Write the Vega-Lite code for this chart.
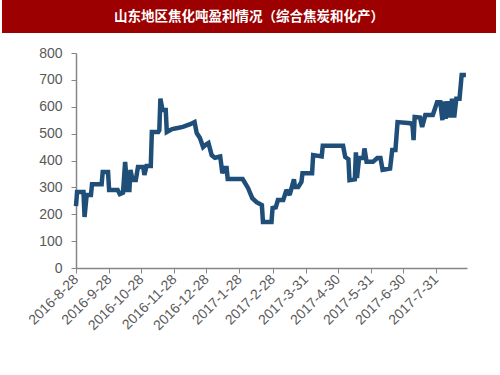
{
  "$schema": "https://vega.github.io/schema/vega-lite/v6.json",
  "background": "white",
  "padding": {"left": 2, "top": 0, "right": 0, "bottom": 0},
  "spacing": 13,
  "config": {"view": {"stroke": null}, "font": "Liberation Sans"},
  "vconcat": [
    {
      "width": 494,
      "height": 33,
      "view": {"fill": "#9C0000", "stroke": null},
      "data": {"values": [{"t": "山东地区焦化吨盈利情况（综合焦炭和化产）"}]},
      "mark": {"type": "text", "color": "white", "fontWeight": "bold", "fontSize": 13.5, "font": "Noto Sans CJK SC", "baseline": "middle", "align": "center"},
      "encoding": {"text": {"field": "t"}}
    },
    {
      "spacing": 0,
      "hconcat": [
        {
          "width": 23,
          "height": 215,
          "data": {"values": []},
          "mark": "point"
        },
        {
          "width": 391,
          "height": 215,
          "data": {"values": [
            {"date": "2016-08-28", "v": 230},
            {"date": "2016-08-29", "v": 283},
            {"date": "2016-09-04", "v": 283},
            {"date": "2016-09-05", "v": 190},
            {"date": "2016-09-07", "v": 272},
            {"date": "2016-09-11", "v": 272},
            {"date": "2016-09-12", "v": 312},
            {"date": "2016-09-21", "v": 312},
            {"date": "2016-09-22", "v": 357},
            {"date": "2016-09-27", "v": 357},
            {"date": "2016-09-28", "v": 290},
            {"date": "2016-10-06", "v": 290},
            {"date": "2016-10-08", "v": 275},
            {"date": "2016-10-11", "v": 280},
            {"date": "2016-10-13", "v": 395},
            {"date": "2016-10-15", "v": 290},
            {"date": "2016-10-17", "v": 290},
            {"date": "2016-10-18", "v": 365},
            {"date": "2016-10-20", "v": 327},
            {"date": "2016-10-23", "v": 327},
            {"date": "2016-10-25", "v": 376},
            {"date": "2016-10-30", "v": 376},
            {"date": "2016-10-31", "v": 346},
            {"date": "2016-11-02", "v": 380},
            {"date": "2016-11-06", "v": 380},
            {"date": "2016-11-07", "v": 506},
            {"date": "2016-11-13", "v": 506},
            {"date": "2016-11-14", "v": 513},
            {"date": "2016-11-15", "v": 630},
            {"date": "2016-11-17", "v": 588},
            {"date": "2016-11-20", "v": 588},
            {"date": "2016-11-21", "v": 506},
            {"date": "2016-11-26", "v": 517},
            {"date": "2016-11-30", "v": 520},
            {"date": "2016-12-06", "v": 525},
            {"date": "2016-12-13", "v": 535},
            {"date": "2016-12-17", "v": 543},
            {"date": "2016-12-19", "v": 502},
            {"date": "2016-12-22", "v": 484},
            {"date": "2016-12-25", "v": 450},
            {"date": "2016-12-28", "v": 460},
            {"date": "2016-12-30", "v": 465},
            {"date": "2016-12-31", "v": 450},
            {"date": "2017-01-02", "v": 420},
            {"date": "2017-01-05", "v": 410},
            {"date": "2017-01-08", "v": 413},
            {"date": "2017-01-10", "v": 415},
            {"date": "2017-01-12", "v": 353},
            {"date": "2017-01-14", "v": 372},
            {"date": "2017-01-16", "v": 372},
            {"date": "2017-01-17", "v": 331},
            {"date": "2017-01-31", "v": 331},
            {"date": "2017-02-05", "v": 298},
            {"date": "2017-02-09", "v": 260},
            {"date": "2017-02-13", "v": 245},
            {"date": "2017-02-18", "v": 234},
            {"date": "2017-02-19", "v": 171},
            {"date": "2017-02-27", "v": 171},
            {"date": "2017-02-28", "v": 223},
            {"date": "2017-03-03", "v": 226},
            {"date": "2017-03-05", "v": 253},
            {"date": "2017-03-10", "v": 253},
            {"date": "2017-03-13", "v": 290},
            {"date": "2017-03-16", "v": 272},
            {"date": "2017-03-20", "v": 330},
            {"date": "2017-03-21", "v": 301},
            {"date": "2017-03-24", "v": 301},
            {"date": "2017-03-27", "v": 320},
            {"date": "2017-03-28", "v": 353},
            {"date": "2017-04-06", "v": 353},
            {"date": "2017-04-07", "v": 420},
            {"date": "2017-04-15", "v": 415},
            {"date": "2017-04-16", "v": 455},
            {"date": "2017-05-05", "v": 455},
            {"date": "2017-05-07", "v": 413},
            {"date": "2017-05-10", "v": 405},
            {"date": "2017-05-11", "v": 327},
            {"date": "2017-05-16", "v": 330},
            {"date": "2017-05-17", "v": 430},
            {"date": "2017-05-18", "v": 335},
            {"date": "2017-05-20", "v": 409},
            {"date": "2017-05-24", "v": 409},
            {"date": "2017-05-25", "v": 445},
            {"date": "2017-05-27", "v": 395},
            {"date": "2017-06-02", "v": 395},
            {"date": "2017-06-06", "v": 409},
            {"date": "2017-06-09", "v": 409},
            {"date": "2017-06-11", "v": 365},
            {"date": "2017-06-18", "v": 370},
            {"date": "2017-06-20", "v": 439},
            {"date": "2017-06-23", "v": 439},
            {"date": "2017-06-25", "v": 543},
            {"date": "2017-07-07", "v": 539},
            {"date": "2017-07-09", "v": 530},
            {"date": "2017-07-10", "v": 476},
            {"date": "2017-07-11", "v": 562},
            {"date": "2017-07-16", "v": 560},
            {"date": "2017-07-18", "v": 525},
            {"date": "2017-07-21", "v": 569},
            {"date": "2017-07-28", "v": 569},
            {"date": "2017-08-01", "v": 617},
            {"date": "2017-08-04", "v": 617},
            {"date": "2017-08-06", "v": 550},
            {"date": "2017-08-07", "v": 620},
            {"date": "2017-08-09", "v": 555},
            {"date": "2017-08-11", "v": 620},
            {"date": "2017-08-13", "v": 560},
            {"date": "2017-08-15", "v": 630},
            {"date": "2017-08-17", "v": 560},
            {"date": "2017-08-19", "v": 630},
            {"date": "2017-08-22", "v": 630},
            {"date": "2017-08-24", "v": 718},
            {"date": "2017-08-28", "v": 718}
          ]},
          "mark": {"type": "line", "color": "#1F4E79", "strokeWidth": 4.5, "strokeJoin": "miter", "strokeMiterLimit": 2},
          "encoding": {
            "x": {
              "field": "date", "type": "temporal",
              "scale": {"type": "utc", "domain": [{"year": 2016, "month": 8, "date": 28, "utc": true}, {"year": 2017, "month": 8, "date": 29, "utc": true}]},
              "axis": {
                "title": null,
                "values": [
                  {"year": 2016, "month": 8, "date": 28, "utc": true},
                  {"year": 2016, "month": 9, "date": 28, "utc": true},
                  {"year": 2016, "month": 10, "date": 28, "utc": true},
                  {"year": 2016, "month": 11, "date": 28, "utc": true},
                  {"year": 2016, "month": 12, "date": 28, "utc": true},
                  {"year": 2017, "month": 1, "date": 28, "utc": true},
                  {"year": 2017, "month": 2, "date": 28, "utc": true},
                  {"year": 2017, "month": 3, "date": 31, "utc": true},
                  {"year": 2017, "month": 4, "date": 30, "utc": true},
                  {"year": 2017, "month": 5, "date": 31, "utc": true},
                  {"year": 2017, "month": 6, "date": 30, "utc": true},
                  {"year": 2017, "month": 7, "date": 31, "utc": true}
                ],
                "format": "%Y-%-m-%-d",
                "labelAngle": -45,
                "labelAlign": "right",
                "labelBaseline": "middle",
                "labelFontSize": 14,
                "labelColor": "#595959",
                "labelPadding": 4,
                "labelOverlap": false,
                "labelFlush": false,
                "domainColor": "#868686",
                "domainWidth": 1.5,
                "tickColor": "#868686",
                "tickSize": 5,
                "grid": false
              }
            },
            "y": {
              "field": "v", "type": "quantitative",
              "scale": {"domain": [0, 800], "nice": false},
              "axis": {
                "title": null,
                "values": [0, 100, 200, 300, 400, 500, 600, 700, 800],
                "labelFontSize": 14,
                "labelColor": "#595959",
                "labelPadding": 9,
                "domainColor": "#868686",
                "domainWidth": 1.5,
                "tickColor": "#868686",
                "tickSize": 5,
                "grid": false
              }
            }
          }
        }
      ]
    }
  ]
}
